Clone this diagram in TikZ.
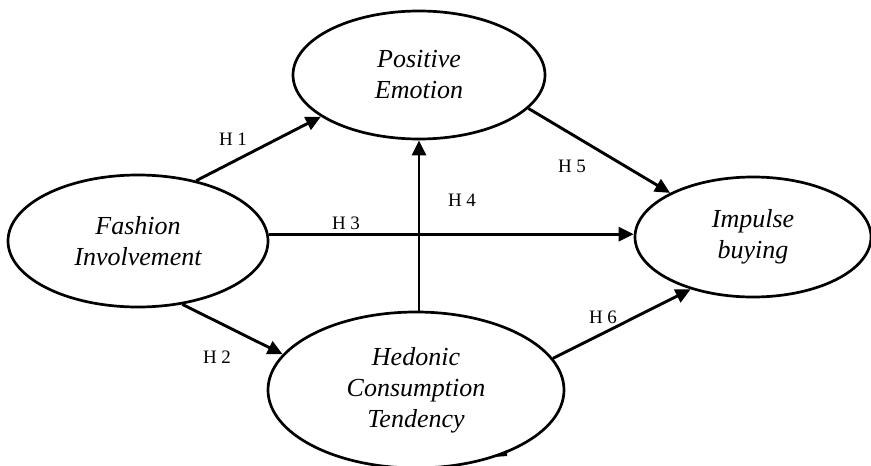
\documentclass[tikz,border=0pt]{standalone}
\usepackage{fontspec}
\setmainfont{Liberation Serif}
\usetikzlibrary{shapes.geometric,arrows.meta}
\begin{document}
\begin{tikzpicture}[x=1pt,y=-1pt,
  latent/.style={ellipse,draw,line width=2.7pt,inner sep=0pt,align=center,
    font=\fontsize{26}{31}\selectfont\itshape},
  hpath/.style={line width=2.9pt,-{Triangle[length=15pt,width=14pt]}},
  hlab/.style={font=\fontsize{19}{22}\selectfont,inner sep=0pt}]
\useasboundingbox (0,0) rectangle (871,466);
\clip (0,0) rectangle (871,466);
\node[latent,minimum width=260pt,minimum height=132pt] (fash) at (138,241) {Fashion\\Involvement};
\node[latent,minimum width=252pt,minimum height=128pt] (pos) at (419,75) {Positive\\Emotion};
\node[latent,minimum width=236pt,minimum height=120pt] (imp) at (753,237) {Impulse\\buying};
\node[latent,minimum width=296pt,minimum height=156pt] (hed) at (416,390) {Hedonic\\Consumption\\Tendency};
% connectors
\draw[hpath] (fash.46) -- (pos.203);
\draw[hpath] (fash.3) -- (fash.3 -| imp.west);
\draw[hpath] (hed.north -| pos.south) -- (pos.south);
\draw[hpath] (pos.-17) -- (imp.152);
\draw[hpath] (hed.13) -- (imp.220);
\draw[hpath] (fash.-55) -- (hed.165);
% labels
\node[hlab] (l1) at (233,139) {H 1};
\node[hlab] (l2) at (217,357) {H 2};
\node[hlab] (l3) at (346,223) {H 3};
\node[hlab] (l4) at (462,200) {H 4};
\node[hlab] (l5) at (572,166) {H 5};
\node[hlab] (l6) at (603,317) {H 6};
% small mark on the lower border
\fill (494,457) -- (507,450) -- (507,456) -- cycle;
\end{tikzpicture}
\end{document}
